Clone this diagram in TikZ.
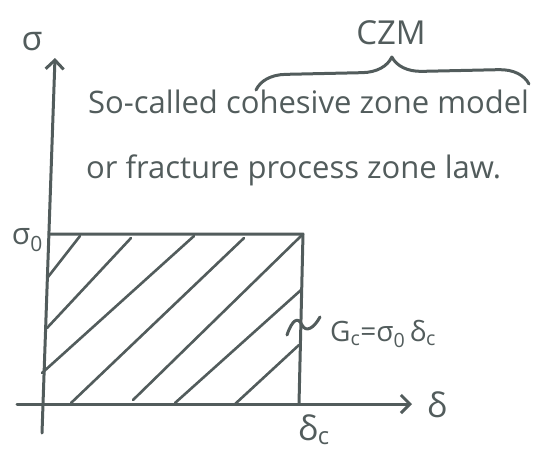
\documentclass[tikz,border=0pt]{standalone}
\usepackage{fontspec}
\setmainfont{Open Sans}
\usetikzlibrary{arrows.meta,positioning,calc,decorations.pathreplacing}
\definecolor{inkgray}{RGB}{82,92,92}

\begin{document}
\begin{tikzpicture}[
  x=1pt, y=-1pt,
  every node/.style={text=inkgray, inner sep=0pt},
  ink/.style={draw=inkgray, line width=3pt, line cap=round, line join=round},
  hatch/.style={draw=inkgray, line width=2.6pt, line cap=round},
  handtext/.style={font=\fontsize{31}{31}\selectfont},
  symtext/.style={font=\fontsize{34}{34}\selectfont}
]
\useasboundingbox (0,0) rectangle (540,461);

% axes
\coordinate (ybot) at (42,433);
\coordinate (ytop) at (55,58);
\coordinate (xleft) at (17,404);
\coordinate (xright) at (412,404);
\draw[ink,-{Straight Barb[length=9pt,width=18pt]}] (ybot) -- (ytop);
\draw[ink,-{Straight Barb[length=9pt,width=18pt]}] (xleft) -- (xright);

% rectangle
\coordinate (tl) at (49,234);
\coordinate (tr) at (303,234);
\coordinate (br) at (299,404);
\draw[ink] (tl) -- (tr) -- (br);

% hatching
\foreach \xa/\ya/\xb/\yb in {48/277/80/236, 47/328/131/238, 42/373/194/236, 71/403/244/238,
                             133/400/301/236, 175/403/301/290, 234/405/299/345}
  \draw[hatch] (\xa,\ya) -- (\xb,\yb);

% axis labels
\node[symtext] (sig) at (32,42) {σ};
\node[symtext, font=\fontsize{30}{30}\selectfont, anchor=east] (sig0) at (43,240) {σ\textsubscript{0}};
\node[symtext] (delc) at (314,430) {δ\textsubscript{c}};
\node[symtext] (del) at (437,405) {δ};

% fracture energy
\draw[ink] (287,335) .. controls (292,320) and (298,316) .. (302,325) .. controls (306,333) and (314,328) .. (320,317);
\node[symtext, font=\fontsize{28}{28}\selectfont, anchor=west] (gc) at (330,334) {G\textsubscript{c}=σ\textsubscript{0}\,δ\textsubscript{c}};

% text
\node[handtext, anchor=base west] (line1) at (88,113) {So-called cohesive zone model};
\node[handtext, anchor=base west] (line2) at (86,178) {or fracture process zone law.};

% brace
\coordinate (bl) at (256,90);
\coordinate (bre) at (529,84);
\draw[ink, decoration={brace, amplitude=30pt}, decorate] (bl) -- (bre);
\node[handtext, font=\fontsize{33}{33}\selectfont] (czm) at (391,33) {CZM};
\end{tikzpicture}
\end{document}
